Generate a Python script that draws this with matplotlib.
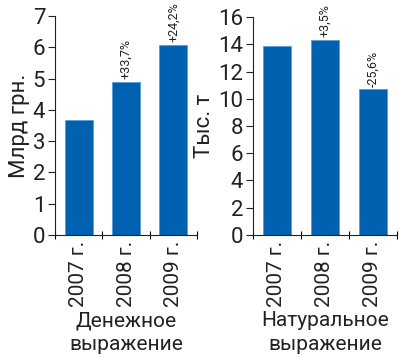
import matplotlib
matplotlib.use("Agg")
import matplotlib.pyplot as plt

plt.rcParams['font.family'] = ['Liberation Sans Narrow', 'Roboto', 'DejaVu Sans']

# Data
years = ['2007 г.', '2008 г.', '2009 г.']
money = [3.67, 4.88, 6.07]
money_chg = ['', '+33,7%', '+24,2%']
volume = [13.85, 14.35, 10.7]
volume_chg = ['', '+3,5%', '-25,6%']

bar_color = '#0061b0'
edge_color = '#5b9bd8'
text_color = '#222222'

fig = plt.figure(figsize=(4.0, 3.57), dpi=100)
ax1 = fig.add_axes([0.1375, 0.342, 0.355, 0.613])
ax2 = fig.add_axes([0.6325, 0.342, 0.36, 0.61])


def draw(ax, vals, chg, ymax, ystep, ylabel, xlabel, pad):
    x = range(len(vals))
    ax.bar(x, vals, width=0.59, color=bar_color, edgecolor=edge_color, linewidth=0.6)
    for i, (v, c) in enumerate(zip(vals, chg)):
        if c:
            ax.text(i, v + pad, c, rotation=90, ha='center', va='bottom',
                    fontsize=9, color=text_color)
    ax.set_xlim(-0.5, len(vals) - 0.5)
    ax.set_ylim(0, ymax)
    ax.set_yticks(range(0, ymax + 1, ystep))
    ax.set_xticks([i - 0.5 for i in range(len(vals) + 1)], minor=False)
    ax.set_xticklabels([])
    ax.set_xticks(list(x), minor=True)
    ax.set_xticklabels(years, minor=True, rotation=90, fontsize=15, color=text_color)
    ax.tick_params(axis='x', which='minor', length=0, pad=4)
    ax.tick_params(axis='x', which='major', length=6, width=0.8, direction='inout')
    ax.tick_params(axis='y', length=5, width=0.8, labelsize=16, colors=text_color, pad=2)
    for s in ['top', 'right']:
        ax.spines[s].set_visible(False)
    for s in ['left', 'bottom']:
        ax.spines[s].set_linewidth(0.8)
        ax.spines[s].set_color(text_color)
    ax.set_ylabel(ylabel, fontsize=16, color=text_color, labelpad=2)
    ax.set_xlabel(xlabel, fontsize=15, color=text_color, linespacing=1.3, labelpad=3)


draw(ax1, money, money_chg, 7, 1, 'Млрд грн.', 'Денежное\nвыражение', 0.1)
draw(ax2, volume, volume_chg, 16, 2, 'Тыс. т', 'Натуральное\nвыражение', 0.2)

fig.savefig('out.png', dpi=100)
